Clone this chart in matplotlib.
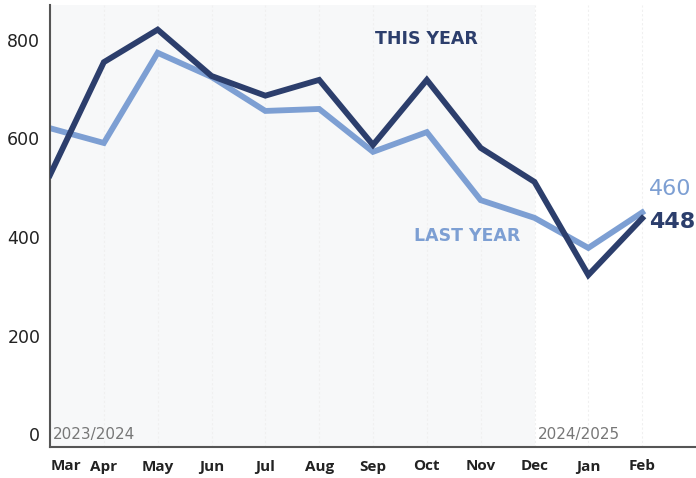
import matplotlib
matplotlib.use("Agg")
import matplotlib.pyplot as plt
import matplotlib.transforms as mtransforms

months = ["Mar", "Apr", "May", "Jun", "Jul", "Aug", "Sep", "Oct", "Nov", "Dec", "Jan", "Feb"]
this_year = [536, 765, 831, 737, 697, 729, 597, 729, 591, 522, 333, 448]
last_year = [631, 601, 784, 735, 666, 670, 583, 623, 485, 449, 388, 460]
yticks = [0, 200, 400, 600, 800]

DARK = "#2c3e6c"
LIGHT = "#7d9fd3"

plt.rcParams['font.family'] = ['DejaVu Sans']

fig = plt.figure(figsize=(6.96, 4.78), dpi=100)
ax = fig.add_axes([50/696, 31/478, 646/696, 442/478])
x = list(range(len(months)))

ax.set_xlim(0, 12)
ax.set_ylim(-16, 881)

# shaded background for season part
ax.axvspan(0, 9, color="#f7f8f9", zorder=0, lw=0)
for xi in x:
    ax.axvline(xi, color="#f0f0f0", lw=0.8, ls=(0, (2, 2)), zorder=0.5)

ax.plot(x, last_year, color=LIGHT, lw=4.2, solid_joinstyle="miter", zorder=2)
ax.plot(x, this_year, color=DARK, lw=4.2, solid_joinstyle="miter", zorder=3)

for s in ["top", "right"]:
    ax.spines[s].set_visible(False)
for s in ["left", "bottom"]:
    ax.spines[s].set_color("#555555")
    ax.spines[s].set_linewidth(1.5)

ax.set_yticks(yticks)
ax.set_yticklabels([str(v) for v in yticks], fontsize=12.5, color="#222222")
ax.tick_params(axis="y", length=0, pad=7)
off = mtransforms.ScaledTranslation(0, 5/100, fig.dpi_scale_trans)
for lab in ax.get_yticklabels():
    lab.set_transform(lab.get_transform() + off)

ax.set_xticks(x)
ax.set_xticklabels(months, fontsize=11, fontweight="bold", color="#222222",
                   family=['Open Sans', 'DejaVu Sans'])
ax.tick_params(axis="x", length=0, pad=9)
lab0 = ax.get_xticklabels()[0]
lab0.set_transform(lab0.get_transform() + mtransforms.ScaledTranslation(16/100, 0, fig.dpi_scale_trans))

ax.text(7, 812, "THIS YEAR", color=DARK, fontsize=12.5, fontweight="bold", ha="center", va="center")
ax.text(7.75, 413, "LAST YEAR", color=LIGHT, fontsize=12.5, fontweight="bold", ha="center", va="center")

ax.text(11.12, 508, str(last_year[-1]), color=LIGHT, fontsize=16, ha="left", va="center")
ax.text(11.12, 441, str(this_year[-1]), color=DARK, fontsize=16, fontweight="bold", ha="left", va="center")

ax.text(0.05, 10, "2023/2024", color="#777777", fontsize=11, ha="left", va="center")
ax.text(9.07, 10, "2024/2025", color="#777777", fontsize=11, ha="left", va="center")

fig.savefig("out.png", dpi=100)
